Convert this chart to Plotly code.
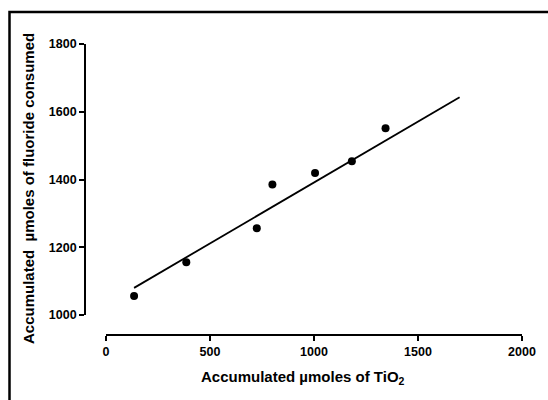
import plotly.graph_objects as go

# Data
tio2 = [135, 386, 725, 800, 1005, 1182, 1344]
fluoride = [1056, 1156, 1256, 1385, 1419, 1454, 1551]
fit_x = [135, 1700]
fit_y = [1080, 1643]
x_ticks = [0, 500, 1000, 1500, 2000]
y_ticks = [1000, 1200, 1400, 1600, 1800]
x_title = "Accumulated µmoles of TiO<sub>2</sub>"
y_title = "Accumulated\u00a0 µmoles of fluoride consumed"

W, H = 548, 400
FONT = "Liberation Sans, Arial, sans-serif"

fig = go.Figure()
fig.add_trace(go.Scatter(x=fit_x, y=fit_y, mode="lines",
                         line=dict(color="black", width=1.8), showlegend=False,
                         cliponaxis=False))
fig.add_trace(go.Scatter(x=tio2, y=fluoride, mode="markers",
                         marker=dict(color="black", size=8), showlegend=False,
                         cliponaxis=False))

tickfont = dict(size=12.5, family=FONT, weight="bold")
titlefont = dict(size=15, family=FONT, weight="bold", color="black")

fig.update_layout(
    width=W, height=H, autosize=False,
    margin=dict(l=0, r=0, t=0, b=0, pad=0),
    paper_bgcolor="white", plot_bgcolor="white",
    font=dict(family=FONT, color="black"),
    xaxis=dict(
        domain=[106 / W, 522 / W], range=[0, 2000], automargin=False,
        anchor="free", position=(H - 335) / H,
        showline=True, linecolor="black", linewidth=1.8,
        ticks="outside", ticklen=5, tickwidth=1.8, tickcolor="black",
        tickvals=x_ticks, ticktext=[str(v) for v in x_ticks],
        tickfont=tickfont, showgrid=False, zeroline=False,
    ),
    yaxis=dict(
        domain=[(H - 315) / H, (H - 44) / H], range=[1000, 1800], automargin=False,
        anchor="free", position=85 / W,
        showline=True, linecolor="black", linewidth=1.8,
        ticks="outside", ticklen=5, tickwidth=1.8, tickcolor="black",
        tickvals=y_ticks, ticktext=[str(v) for v in y_ticks],
        tickfont=tickfont, showgrid=False, zeroline=False,
    ),
    annotations=[
        dict(text=x_title, xref="paper", yref="paper", x=303 / W, y=(H - 377) / H,
             xanchor="center", yanchor="middle", showarrow=False, font=titlefont),
        dict(text=y_title, xref="paper", yref="paper", x=28 / W, y=(H - 189) / H,
             xanchor="center", yanchor="middle", showarrow=False, textangle=-90,
             font=titlefont),
    ],
    shapes=[dict(type="rect", xref="paper", yref="paper",
                 x0=9.5 / W, x1=1.05, y0=-0.05, y1=(H - 12) / H,
                 line=dict(color="black", width=2.5), fillcolor="rgba(0,0,0,0)",
                 layer="below")],
)

fig.write_html("out.html")
